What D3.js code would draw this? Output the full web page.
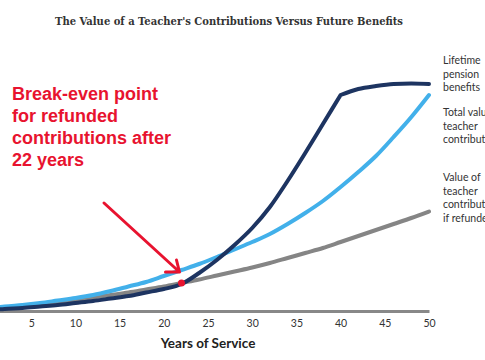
<!DOCTYPE html>
<html><head><meta charset="utf-8">
<script src="https://cdn.jsdelivr.net/npm/d3@7"></script>
<style>
html,body{margin:0;padding:0;background:#fff;overflow:hidden;}
svg{display:block;}
</style></head>
<body>
<svg id="chart" width="485" height="360"></svg>
<script>
const years = [0,2,4,6,8,10,12,14,16,18,20,22,24,26,28,30,32,34,36,38,40,42,44,46,48,50];
const pensionBenefits = [0.5,2,3,4.5,6,8,10,12.5,15,18.5,22,27,38,51,66,83,104,130,158,187,216,222,225,227,227.5,227];
const totalContrib = [2,4.5,6,8,10.5,13,16,20,24.5,29,35,41,47,54,61.5,69,77,87,98,110,124,139,155,174,194,216];
const refundedContrib = [1.5,3.5,5,7,9,11,13.5,16,18.5,21.5,24.5,28,31.5,35.5,39.5,43.5,48,53,58,63,69,75,81,87,93,99.5];
const pensionKinkYear = 40;
const xTicks = [5,10,15,20,25,30,35,40,45,50];
const breakEvenYear = 22;
const breakEvenValue = 28;
const title = "The Value of a Teacher's Contributions Versus Future Benefits";
const seriesLabels = [
  ["Lifetime","pension","benefits"],
  ["Total value of","teacher","contributions"],
  ["Value of","teacher","contributions","if refunded"]
];
const annotation = ["Break-even point","for refunded","contributions after","22 years"];

const svg = d3.select("#chart");
const x = d3.scaleLinear().domain([0,50]).range([-13,429]);
const y = d3.scaleLinear().domain([0,250]).range([311,61]);

// title
svg.append("text").attr("x",229).attr("y",25).attr("text-anchor","middle")
  .attr("font-family","'DejaVu Serif', serif").attr("font-weight","bold")
  .attr("font-size",11).attr("fill","#333")
  .attr("textLength",348).attr("lengthAdjust","spacingAndGlyphs").text(title);

// axis
const axis = svg.append("g").attr("transform","translate(0,311)")
  .call(d3.axisBottom(x).tickValues(xTicks).tickSize(0).tickPadding(9));
axis.select(".domain").attr("stroke","#888").attr("stroke-width",3);
axis.selectAll("text").attr("font-family","Lato, sans-serif").attr("font-size",10.5).attr("fill","#333");

svg.append("text").attr("x",208).attr("y",348).attr("text-anchor","middle")
  .attr("font-family","Lato, sans-serif").attr("font-weight","bold").attr("font-size",13.5)
  .attr("fill","#222").text("Years of Service");

const line = d3.line().x(d=>x(d[0])).y(d=>y(d[1])).curve(d3.curveMonotoneX);
const pts = vals => years.map((yr,i)=>[yr,vals[i]]);

function drawSeries(data,color){
  svg.append("path").attr("d",line(data)).attr("fill","none")
    .attr("stroke",color).attr("stroke-width",4).attr("stroke-linecap","round").attr("stroke-linejoin","round");
}
drawSeries(pts(refundedContrib),"#858585");
drawSeries(pts(totalContrib),"#42b0ea");
const pp = pts(pensionBenefits);
const pg = svg.append("g");
const pathA = line(pp.filter(d=>d[0]<=pensionKinkYear));
const pathB = line(pp.filter(d=>d[0]>=pensionKinkYear)).replace(/^M/,"L");
svg.append("path").attr("d",pathA+pathB).attr("fill","none")
  .attr("stroke","#1d3461").attr("stroke-width",4).attr("stroke-linecap","round").attr("stroke-linejoin","round");

// right labels
const labelTops = [60,112,177];
seriesLabels.forEach((lines,k)=>{
  const t = svg.append("text").attr("font-family","Lato, sans-serif").attr("font-size",10.5).attr("fill","#333");
  lines.forEach((l,i)=>{
    t.append("tspan").attr("x",443).attr("y",labelTops[k]+4+i*13.5).text(l);
  });
});

// annotation
const at = svg.append("text").attr("font-family","'Liberation Sans', Arial, sans-serif")
  .attr("font-weight","bold").attr("font-size",18).attr("fill","#e8132f");
annotation.forEach((l,i)=>{
  at.append("tspan").attr("x",12).attr("y",100+i*22).text(l);
});

// arrow
const bx = x(breakEvenYear), by = y(breakEvenValue);
svg.append("path").attr("d",`M104,203 L${bx-2},${by-11} M${bx-5},${by-23} L${bx-2},${by-11} L${bx-16},${by-11}`)
  .attr("fill","none").attr("stroke","#e8132f").attr("stroke-width",3)
  .attr("stroke-linecap","round").attr("stroke-linejoin","round");
svg.append("circle").attr("cx",bx).attr("cy",by).attr("r",3.5).attr("fill","#e8132f");
</script>
</body></html>
